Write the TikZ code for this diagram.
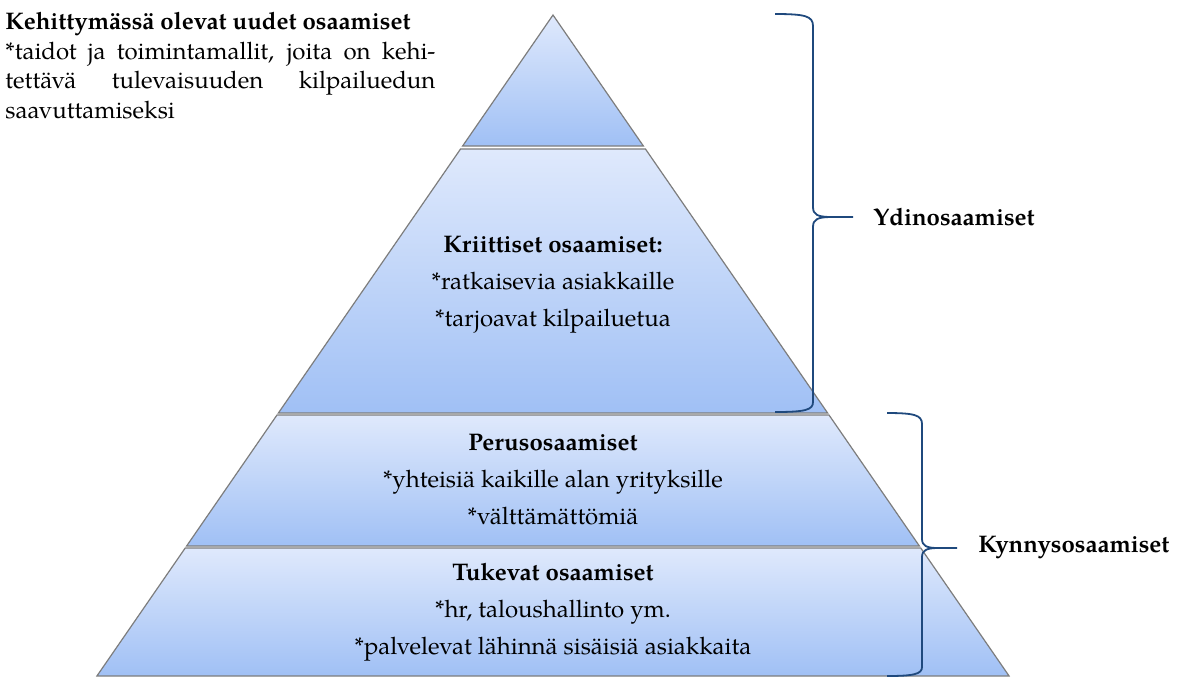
\documentclass[tikz,border=0pt]{standalone}
\usepackage{fontspec}
\setmainfont{TeX Gyre Pagella}
\usetikzlibrary{positioning}

\definecolor{pyrtop}{RGB}{223,233,252}
\definecolor{pyrbot}{RGB}{160,192,245}
\definecolor{bracecol}{RGB}{31,73,125}
\definecolor{edgecol}{RGB}{125,125,125}

\begin{document}
\begin{tikzpicture}[x=0.5pt, y=-0.5pt]
    \def\ax{553}
    \def\ay{15}
    \def\k{0.69}
    \tikzset{layer/.style={top color=pyrtop, bottom color=pyrbot, draw=edgecol, line width=0.6pt}}
    \tikzset{lvltext/.style={align=center, font=\fontsize{12}{18.5}\selectfont, inner sep=0pt}}
    \tikzset{bracket/.style={draw=bracecol, line width=0.9pt}}
    \tikzset{bracelabel/.style={font=\fontsize{12}{14}\selectfont\bfseries, inner sep=0pt}}

    \useasboundingbox (0,0) rectangle (1178,677);

    % PYRAMID LAYERS (top y / bottom y)
    \foreach \t/\b in {15/146, 149/413, 415/546, 548/676} {
        \pgfmathsetmacro{\wt}{(\t-\ay)*\k}
        \pgfmathsetmacro{\wb}{(\b-\ay)*\k}
        \path[layer] (\ax-\wt,\t) -- (\ax+\wt,\t) -- (\ax+\wb,\b) -- (\ax-\wb,\b) -- cycle;
    }

    % LEVEL TEXTS
    \node[lvltext] (krit) at (553,285) {\textbf{Kriittiset osaamiset:}\\{}*ratkaisevia asiakkaille\\{}*tarjoavat kilpailuetua};
    \node[lvltext] (perus) at (553,480) {\textbf{Perusosaamiset}\\{}*yhteisiä kaikille alan yrityksille\\{}*välttämättömiä};
    \node[lvltext] (tuki) at (553,612) {\textbf{Tukevat osaamiset}\\{}*hr, taloushallinto ym.\\{}*palvelevat lähinnä sisäisiä asiakkaita};

    % TOP-LEFT NOTE
    \node[anchor=north west, inner sep=0pt, align=left, font=\fontsize{12}{14.8}\selectfont] (uudet) at (5,12)
        {\textbf{Kehittymässä olevat uudet osaamiset}\\{}\makebox[215pt][s]{*taidot ja toimintamallit, joita on kehi-}\\\makebox[215pt][s]{tettävä tulevaisuuden kilpailuedun}\\saavuttamiseksi};

    % BRACES
    \coordinate (ydintip) at (853,217);
    \coordinate (kyntip) at (957,548);
    \draw[bracket] (775,14) .. controls (805,14) and (813,16) .. (813,26) -- (813,207)
        .. controls (813,215) and (818,217) .. (832,217) -- (ydintip)
        (832,217) .. controls (818,217) and (813,219) .. (813,227) -- (813,402)
        .. controls (813,410) and (805,412) .. (775,412);
    \draw[bracket] (887,413) .. controls (914,413) and (922,415) .. (922,424) -- (922,539)
        .. controls (922,546) and (927,548) .. (938,548) -- (kyntip)
        (938,548) .. controls (927,548) and (922,550) .. (922,557) -- (922,667)
        .. controls (922,674) and (914,676) .. (887,676);
    \node[bracelabel, right=10pt of ydintip] (ydin) {Ydinosaamiset};
    \node[bracelabel, right=10.5pt of kyntip] (kynnys) {Kynnysosaamiset};
\end{tikzpicture}
\end{document}
